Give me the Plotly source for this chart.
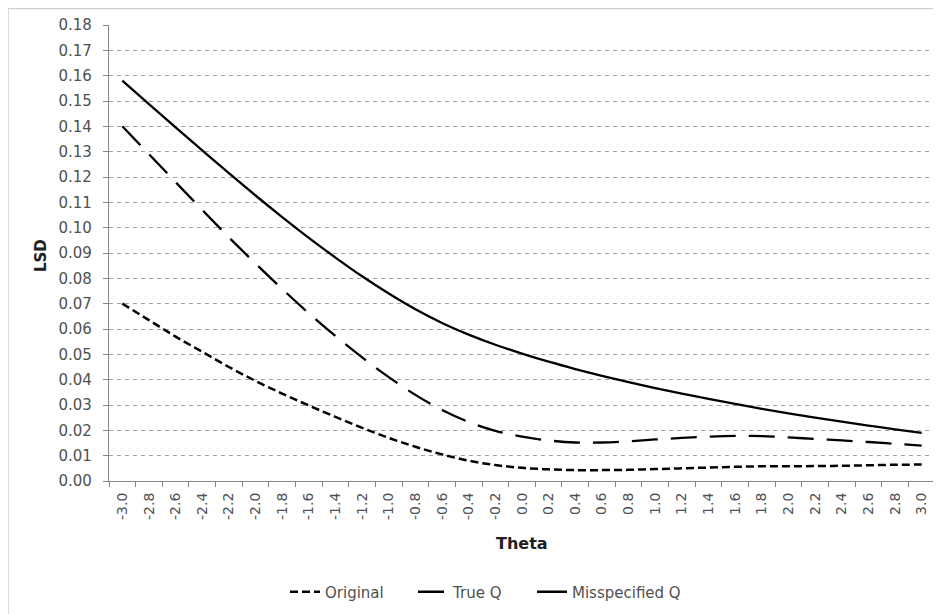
import plotly.graph_objects as go

theta = ["-3.0", "-2.8", "-2.6", "-2.4", "-2.2", "-2.0", "-1.8", "-1.6", "-1.4", "-1.2",
         "-1.0", "-0.8", "-0.6", "-0.4", "-0.2", "0.0", "0.2", "0.4", "0.6", "0.8",
         "1.0", "1.2", "1.4", "1.6", "1.8", "2.0", "2.2", "2.4", "2.6", "2.8", "3.0"]

original = [0.070, 0.0635, 0.057, 0.051, 0.045, 0.0395, 0.0345, 0.0298, 0.0253, 0.021,
            0.017, 0.0135, 0.0105, 0.008, 0.0063, 0.0052, 0.0046, 0.0043, 0.0043, 0.0044,
            0.0047, 0.0050, 0.0053, 0.0056, 0.0058, 0.0058, 0.0059, 0.0060, 0.0062, 0.0064, 0.0065]

true_q = [0.140, 0.129, 0.118, 0.107, 0.0962, 0.0858, 0.0758, 0.0662, 0.0572, 0.0488,
          0.0410, 0.0340, 0.0280, 0.0233, 0.0198, 0.0175, 0.0160, 0.0152, 0.0152, 0.0157,
          0.0164, 0.0170, 0.0175, 0.0178, 0.0177, 0.0172, 0.0166, 0.0160, 0.0154, 0.0147, 0.0140]

misspecified_q = [0.158, 0.1488, 0.1396, 0.1305, 0.1215, 0.1127, 0.1042, 0.096, 0.0882, 0.0808,
                  0.0740, 0.0678, 0.0624, 0.0578, 0.0538, 0.0503, 0.0471, 0.0442, 0.0415, 0.0390,
                  0.0367, 0.0345, 0.0324, 0.0304, 0.0285, 0.0267, 0.0250, 0.0234, 0.0219, 0.0204, 0.019]

y_ticks = [i / 100 for i in range(0, 19)]
y_tick_labels = [f"{v:.2f}" for v in y_ticks]

FONT = "'DejaVu Sans', sans-serif"

W, H = 933, 606
L, R, T, B = 101, 6, 17, 133
PW, PH = W - L - R, H - T - B

fig = go.Figure()
fig.add_trace(go.Scatter(x=theta, y=original, name="Original", mode="lines", legend="legend",
                         line=dict(color="black", width=2.5, dash="8px,4px", shape="spline")))
fig.add_trace(go.Scatter(x=theta, y=true_q, name="True Q", mode="lines", legend="legend2",
                         line=dict(color="black", width=2.3, dash="26px,13px", shape="spline")))
fig.add_trace(go.Scatter(x=theta, y=misspecified_q, name="Misspecified Q", mode="lines", legend="legend3",
                         line=dict(color="black", width=2.3, shape="spline")))


def leg(text_start_fig):
    return dict(orientation="h", x=(text_start_fig - 40 - L) / PW, xanchor="left",
                y=-111 / PH, yanchor="middle",
                font=dict(size=15, color="#505050"), tracegroupgap=0,
                bgcolor="rgba(0,0,0,0)")


fig.update_layout(
    width=W, height=H,
    margin=dict(l=L, r=R, t=T, b=B),
    paper_bgcolor="white", plot_bgcolor="white",
    font=dict(family=FONT, size=15, color="#505050"),
    showlegend=True,
    legend=leg(317),
    legend2=leg(445),
    legend3=leg(564),
    shapes=[dict(type="rect", xref="paper", yref="paper",
                 x0=-L / PW, x1=1.0 + R / PW + 0.01, y0=-B / PH - 0.01, y1=1 + (T - 0.5) / PH,
                 line=dict(color="#d0d0d0", width=1.5), fillcolor="rgba(0,0,0,0)", layer="below")],
    annotations=[
        dict(text="<b>Theta</b>", xref="paper", yref="paper", x=(514 - L) / PW, y=-(535 - (H - B)) / PH,
             xanchor="center", yanchor="middle", showarrow=False,
             font=dict(size=16, color="#202020")),
        dict(text="<b>LSD</b>", xref="paper", yref="paper", x=(33 - L) / PW, y=((H - B) - 248) / PH,
             xanchor="center", yanchor="middle", showarrow=False, textangle=-90,
             font=dict(size=15, color="#202020")),
    ],
)

fig.update_xaxes(
    type="category", range=[-0.5, len(theta) - 0.5],
    showline=True, linecolor="#868686", linewidth=1.2,
    ticks="outside", tickson="boundaries", ticklen=5, tickcolor="#868686",
    tickangle=-90, tickfont=dict(size=14, color="#505050"), ticklabelstandoff=5,
    showgrid=False, zeroline=False,
)
fig.update_yaxes(
    range=[0, 0.18], tickvals=y_ticks, ticktext=y_tick_labels,
    showline=True, linecolor="#868686", linewidth=1.2,
    ticks="outside", ticklen=5, tickcolor="#868686",
    tickfont=dict(size=15, color="#505050"), ticklabelstandoff=8,
    showgrid=True, gridcolor="#a0a0a0", gridwidth=1, griddash="4px,4px",
    zeroline=False,
)

fig.write_html("out.html")
